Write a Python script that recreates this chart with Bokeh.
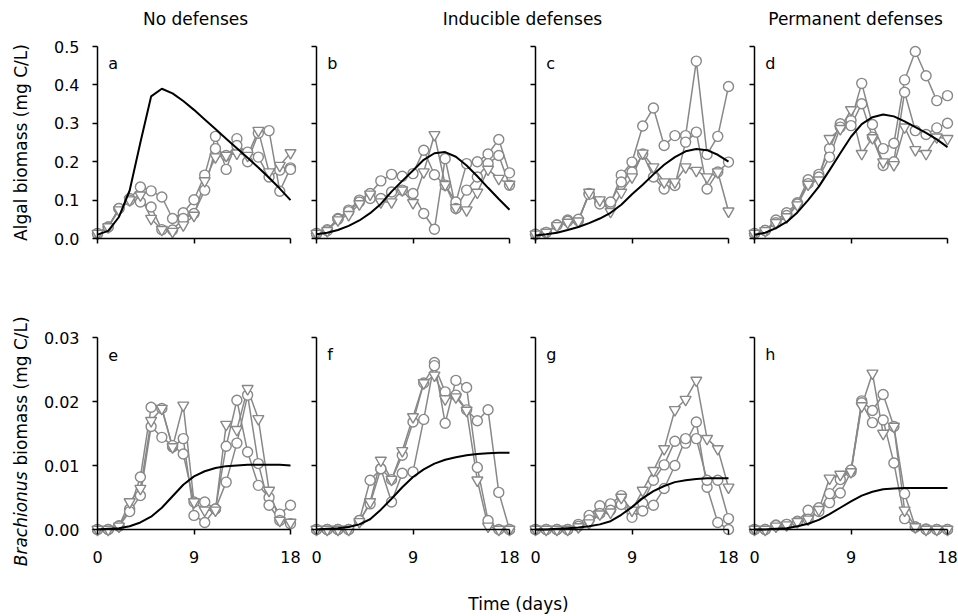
from math import pi
from bokeh.plotting import figure
from bokeh.layouts import row, column
from bokeh.models import Range1d, FixedTicker, NumeralTickFormatter, CustomJSTickFormatter, Label
from bokeh.core.properties import value
from bokeh.embed import file_html
from bokeh.resources import INLINE

# ---------------- data ----------------
days = list(range(19))

col_titles = ["No defenses", "Inducible defenses", "Permanent defenses"]
x_ticks = [0, 9, 18]
algae_ticks = [0.0, 0.1, 0.2, 0.3, 0.4, 0.5]
brach_ticks = [0.00, 0.01, 0.02, 0.03]

# Algal biomass (mg C/L) - panels a-d: two circle replicates, one triangle replicate, model
a_c1 = [0.013, 0.03, 0.078, 0.104, 0.134, 0.124, 0.108, 0.052, 0.067, 0.101, 0.165, 0.266, 0.18, 0.26, 0.2, 0.274, 0.281, 0.123, 0.184]
a_c2 = [0.013, 0.03, 0.078, 0.10, 0.095, 0.082, 0.023, 0.022, 0.052, 0.065, 0.126, 0.234, 0.216, 0.242, 0.225, 0.212, 0.16, 0.178, 0.18]
a_t = [0.013, 0.03, 0.074, 0.10, 0.113, 0.052, 0.023, 0.018, 0.035, 0.06, 0.15, 0.212, 0.216, 0.222, 0.216, 0.281, 0.173, 0.19, 0.223]
a_model = [0.01, 0.02, 0.056, 0.125, 0.25, 0.37, 0.39, 0.378, 0.358, 0.335, 0.31, 0.285, 0.26, 0.235, 0.21, 0.185, 0.158, 0.13, 0.10]

b_c1 = [0.013, 0.023, 0.052, 0.074, 0.1, 0.117, 0.15, 0.167, 0.162, 0.169, 0.23, 0.166, 0.139, 0.095, 0.195, 0.2, 0.22, 0.258, 0.171]
b_c2 = [0.013, 0.02, 0.05, 0.07, 0.095, 0.104, 0.104, 0.121, 0.126, 0.117, 0.065, 0.024, 0.208, 0.078, 0.126, 0.16, 0.195, 0.216, 0.139]
b_t = [0.013, 0.02, 0.048, 0.062, 0.09, 0.115, 0.095, 0.095, 0.126, 0.093, 0.173, 0.27, 0.14, 0.08, 0.074, 0.12, 0.18, 0.156, 0.141]
b_model = [0.011, 0.015, 0.022, 0.033, 0.047, 0.066, 0.09, 0.122, 0.15, 0.177, 0.205, 0.222, 0.225, 0.213, 0.19, 0.162, 0.132, 0.103, 0.075]

c_c1 = [0.011, 0.016, 0.035, 0.048, 0.046, 0.117, 0.095, 0.09, 0.165, 0.199, 0.293, 0.34, 0.242, 0.268, 0.268, 0.462, 0.219, 0.266, 0.396]
c_c2 = [0.011, 0.016, 0.035, 0.045, 0.05, 0.115, 0.09, 0.095, 0.147, 0.173, 0.22, 0.16, 0.129, 0.138, 0.251, 0.277, 0.129, 0.173, 0.199]
c_t = [0.011, 0.016, 0.033, 0.042, 0.045, 0.12, 0.1, 0.07, 0.12, 0.16, 0.222, 0.186, 0.147, 0.147, 0.186, 0.177, 0.16, 0.173, 0.071]
c_model = [0.008, 0.011, 0.015, 0.022, 0.03, 0.04, 0.052, 0.067, 0.088, 0.115, 0.14, 0.167, 0.192, 0.212, 0.227, 0.233, 0.23, 0.218, 0.2]

d_c1 = [0.013, 0.021, 0.048, 0.067, 0.093, 0.153, 0.167, 0.234, 0.299, 0.307, 0.404, 0.297, 0.234, 0.248, 0.413, 0.487, 0.424, 0.359, 0.372]
d_c2 = [0.013, 0.021, 0.041, 0.06, 0.09, 0.143, 0.16, 0.212, 0.29, 0.294, 0.351, 0.264, 0.19, 0.2, 0.381, 0.281, 0.271, 0.288, 0.3]
d_t = [0.013, 0.02, 0.041, 0.056, 0.087, 0.141, 0.152, 0.26, 0.286, 0.335, 0.221, 0.262, 0.199, 0.192, 0.29, 0.231, 0.221, 0.264, 0.26]
d_model = [0.01, 0.015, 0.027, 0.043, 0.068, 0.1, 0.135, 0.178, 0.222, 0.265, 0.298, 0.316, 0.323, 0.318, 0.305, 0.29, 0.275, 0.258, 0.238]

# Brachionus biomass (mg C/L) - panels e-h
e_c1 = [0, 0, 0.0006, 0.0032, 0.0082, 0.0191, 0.0189, 0.0129, 0.0142, 0.0022, 0.0011, 0.0032, 0.013, 0.0202, 0.0121, 0.0069, 0.005, 0.0024, 0.0038]
e_c2 = [0, 0, 0.0005, 0.0028, 0.0053, 0.0161, 0.0144, 0.0131, 0.0118, 0.0043, 0.0043, 0.0032, 0.0074, 0.0135, 0.021, 0.0103, 0.0038, 0.0014, 0.0009]
e_t = [0, 0, 0.0005, 0.0043, 0.0064, 0.017, 0.0189, 0.0129, 0.0194, 0.0043, 0.003, 0.003, 0.0164, 0.0156, 0.022, 0.0173, 0.0061, 0.0014, 0.0011]
e_model = [0, 0.0001, 0.0002, 0.0005, 0.0011, 0.002, 0.0034, 0.0052, 0.007, 0.0083, 0.0091, 0.0096, 0.0099, 0.01, 0.0101, 0.0101, 0.0101, 0.0101, 0.01]

f_c1 = [0, 0, 0, 0, 0.0014, 0.0077, 0.0095, 0.0043, 0.0088, 0.009, 0.0172, 0.0261, 0.0166, 0.0233, 0.0222, 0.0097, 0.0014, 0, 0]
f_c2 = [0, 0, 0, 0, 0.0014, 0.004, 0.0095, 0.0078, 0.0116, 0.0168, 0.0229, 0.0256, 0.0215, 0.021, 0.0187, 0.017, 0.0187, 0.0058, 0]
f_t = [0, 0, 0, 0, 0.0012, 0.0043, 0.0108, 0.0078, 0.0123, 0.0176, 0.0229, 0.0241, 0.0204, 0.0207, 0.0186, 0.0077, 0.0005, 0, 0]
f_model = [0, 0.0001, 0.0002, 0.0004, 0.0008, 0.0016, 0.0031, 0.0048, 0.0066, 0.0082, 0.0094, 0.0103, 0.0109, 0.0113, 0.0116, 0.0118, 0.0119, 0.012, 0.012]

g_c1 = [0, 0, 0, 0, 0.0008, 0.0022, 0.0037, 0.004, 0.0053, 0.0027, 0.0041, 0.0077, 0.0101, 0.0138, 0.0135, 0.0168, 0.0066, 0.0011, 0]
g_c2 = [0, 0, 0, 0, 0.0005, 0.0015, 0.0025, 0.003, 0.0039, 0.0019, 0.0029, 0.0038, 0.0064, 0.01, 0.0142, 0.0142, 0.0077, 0.0077, 0.0017]
g_t = [0, 0, 0, 0, 0.0004, 0.001, 0.0024, 0.0027, 0.005, 0.003, 0.0061, 0.0092, 0.0126, 0.0187, 0.0203, 0.0233, 0.0142, 0.0126, 0.0066]
g_model = [0, 0, 0.0001, 0.0002, 0.0003, 0.0005, 0.0008, 0.0013, 0.0023, 0.0035, 0.0049, 0.006, 0.0068, 0.0074, 0.0077, 0.0079, 0.008, 0.008, 0.008]

h_c1 = [0, 0, 0.0007, 0.0008, 0.0013, 0.003, 0.0034, 0.0042, 0.0057, 0.009, 0.0201, 0.0186, 0.0211, 0.0161, 0.0056, 0.0004, 0.0001, 0, 0]
h_c2 = [0, 0, 0.0006, 0.0008, 0.0012, 0.0016, 0.0028, 0.0056, 0.0078, 0.0093, 0.0198, 0.0167, 0.0171, 0.0104, 0.0017, 0.0004, 0, 0, 0]
h_t = [0, 0, 0.0005, 0.0007, 0.0012, 0.0016, 0.0031, 0.008, 0.0086, 0.009, 0.0193, 0.0244, 0.015, 0.0161, 0.003, 0.0004, 0, 0, 0]
h_model = [0, 0, 0.0001, 0.0002, 0.0005, 0.0009, 0.0015, 0.0024, 0.0034, 0.0044, 0.0053, 0.0059, 0.0063, 0.0064, 0.0065, 0.0065, 0.0065, 0.0065, 0.0065]

# ---------------- styling ----------------
FONT = "DejaVu Sans"
FS = "16px"      # tick labels / panel letters
TFS = "17px"     # titles
GRAY = "#888888"
PW, PH = 193, 192  # axis lengths in px


def strip(width, height):
    p = figure(width=width, height=height, x_range=Range1d(0, width), y_range=Range1d(0, height),
               x_axis_location=None, y_axis_location=None, output_backend="svg",
               toolbar_location=None, min_border=0, outline_line_color=None)
    p.grid.visible = False
    return p


def panel(c1, c2, tr, model, letter, top, bl, br):
    # bl/br/bt/bb: pixel room between the axes' ends and the figure's edges
    if top:
        bt, bb, ymax, ticks, fmt = 14, 50, 0.5, algae_ticks, "0.0"
    else:
        bt, bb, ymax, ticks, fmt = 49, 50, 0.03, brach_ticks, "0.00"
    width = bl + PW + br
    height = bt + PH + bb
    kx = PW / 18
    ky = PH / ymax
    p = figure(width=width, height=height,
               x_range=Range1d(-bl / kx, 18 + br / kx), y_range=Range1d(-bb / ky, ymax + bt / ky),
               output_backend="svg", toolbar_location=None, min_border=0,
               outline_line_color=None)
    p.grid.visible = False
    for ax in (p.xaxis[0], p.yaxis[0]):
        ax.axis_line_width = 1.5
        ax.axis_line_color = "black"
        ax.major_tick_line_width = 1.5
        ax.major_tick_in = 0
        ax.major_tick_out = 5
        ax.minor_tick_line_color = None
        ax.major_label_text_font = FONT
        ax.major_label_text_font_size = FS
        ax.major_label_text_color = "black"
        ax.fixed_location = 0
    p.xaxis.bounds = (0, 18)
    p.yaxis.bounds = (0, ymax)
    p.xaxis.ticker = FixedTicker(ticks=x_ticks)
    p.yaxis.ticker = FixedTicker(ticks=ticks)
    p.xaxis.major_label_standoff = 16
    if top:
        p.xaxis.formatter = CustomJSTickFormatter(code="return ''")
    if bl > 30:
        p.yaxis.formatter = NumeralTickFormatter(format=fmt)
        p.yaxis.major_label_standoff = 13
    else:
        p.yaxis.formatter = CustomJSTickFormatter(code="return ''")
        p.yaxis.major_label_standoff = 0

    for s in (c1, c2, tr):
        p.line(days, s, line_color=GRAY, line_width=1.5)
    for s in (c1, c2):
        p.scatter(days, s, marker="circle", size=10, fill_color="white", line_color=GRAY, line_width=1.4)
    p.scatter(days, tr, marker="inverted_triangle", size=11, fill_color="white", line_color=GRAY, line_width=1.4)
    p.line(days, model, line_color="black", line_width=2)

    p.add_layout(Label(x=1.0, y=ymax * 0.91, text=letter, text_baseline="middle",
                       text_font=FONT, text_font_size=FS, text_color="black"))
    return p


top_data = [(a_c1, a_c2, a_t, a_model, "a"), (b_c1, b_c2, b_t, b_model, "b"),
            (c_c1, c_c2, c_t, c_model, "c"), (d_c1, d_c2, d_t, d_model, "d")]
bot_data = [(e_c1, e_c2, e_t, e_model, "e"), (f_c1, f_c2, f_t, f_model, "f"),
            (g_c1, g_c2, g_t, g_model, "g"), (h_c1, h_c2, h_t, h_model, "h")]
borders = [(62, 12), (14, 12), (14, 12), (14, 11)]

top_row = row(*[panel(*d, True, *b) for d, b in zip(top_data, borders)])
bot_row = row(*[panel(*d, False, *b) for d, b in zip(bot_data, borders)])

# title strip
title = strip(958, 32)
title.text(x=[195, 522, 855], y=[14, 14, 14], text=col_titles, text_align="center",
           text_baseline="middle", text_font=value(FONT), text_font_size=TFS, text_color="black")

# left strip with y-axis titles (height = top row 256 + bottom row 291)
left = strip(35, 547)
left.text(x=[20], y=[437], text=["Algal biomass (mg C/L)"], angle=pi / 2, text_align="center",
          text_baseline="middle", text_font=value(FONT), text_font_size=TFS, text_color="black")
left.text(x=[20], y=[108], text=["Brachionus"], angle=pi / 2, text_align="right",
          text_baseline="middle", text_font=value(FONT), text_font_style="italic",
          text_font_size=TFS, text_color="black")
left.text(x=[20], y=[114], text=["biomass (mg C/L)"], angle=pi / 2, text_align="left",
          text_baseline="middle", text_font=value(FONT), text_font_size=TFS, text_color="black")

# bottom strip with x-axis title
bottom = strip(958, 37)
bottom.text(x=[518], y=[13], text=["Time (days)"], text_align="center", text_baseline="middle",
            text_font=value(FONT), text_font_size=TFS, text_color="black")

layout = column(title, row(left, column(top_row, bot_row)), bottom)

open("out.html", "w").write(file_html(layout, INLINE))
